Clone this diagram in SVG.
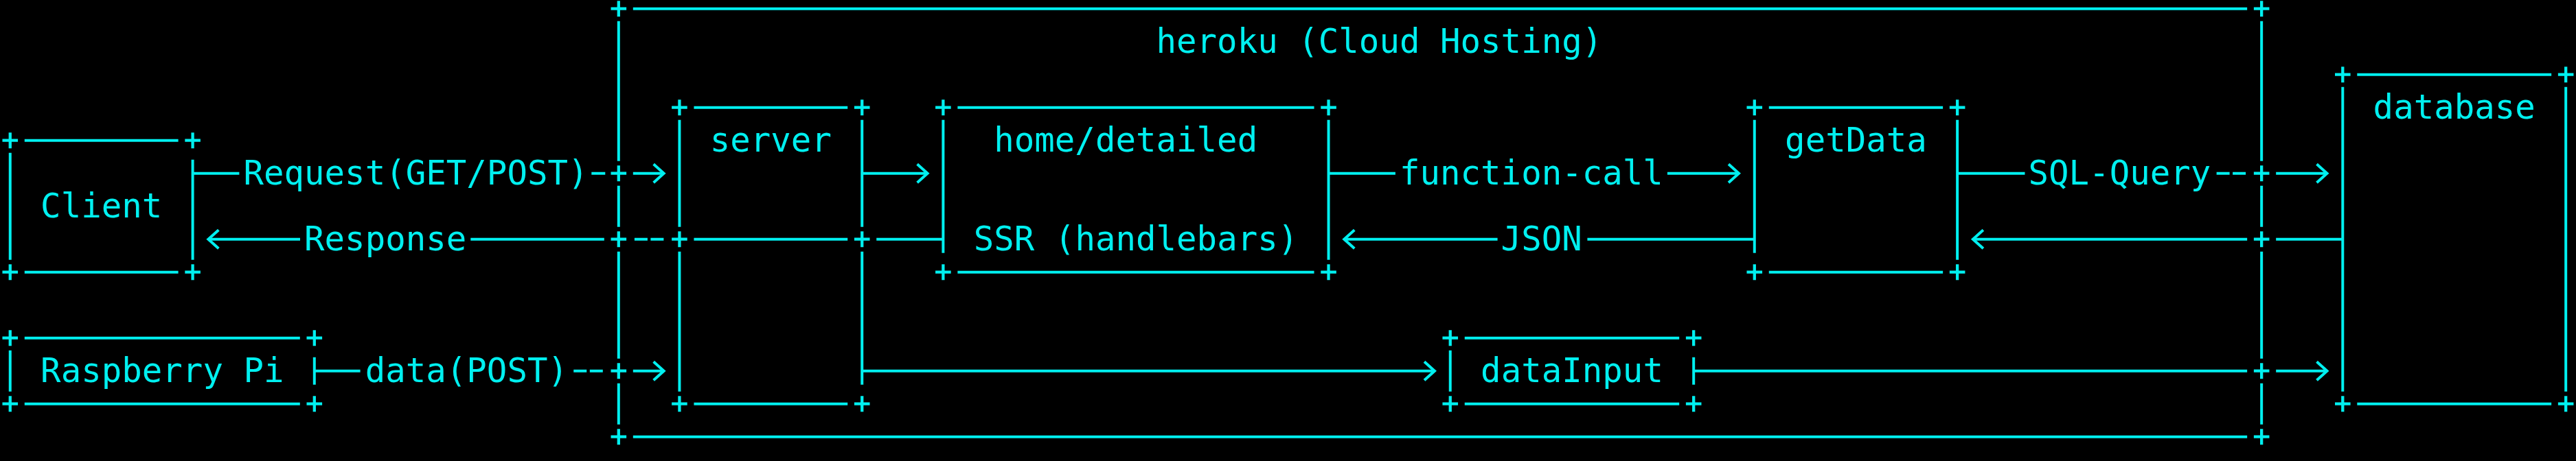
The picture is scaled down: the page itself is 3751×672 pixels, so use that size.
<svg xmlns="http://www.w3.org/2000/svg" xmlns:xlink="http://www.w3.org/1999/xlink" width="3751" height="672" viewBox="0 0 3751 672">
<style>
.ln{stroke:#00f0f0;stroke-width:4;fill:none;stroke-linecap:butt}
.ar{stroke:#00f0f0;stroke-width:4;fill:none;stroke-linecap:butt;marker-end:url(#ah)}
.t{font-family:"DejaVu Sans Mono","Liberation Mono",monospace;font-size:49px;fill:#00f0f0}
</style>
<defs>
<path id="p" d="M-11.3 0H11.3M0-11.5V11.5" stroke="#00f0f0" stroke-width="4.3" fill="none"/>
<marker id="ah" markerUnits="userSpaceOnUse" viewBox="-20 -20 40 40" markerWidth="40" markerHeight="40" refX="0" refY="0" orient="auto" overflow="visible">
<path d="M-15-13.5L0 0L-15 13.5" fill="none" stroke="#00f0f0" stroke-width="4"/>
</marker>
</defs>
<rect width="3751" height="672" fill="#000"/>

<g id="heroku">
<path class="ln" d="M921.82 12.7H3272.16M921.82 636.7H3272.16M900.82 30.7V234.7M900.82 270.7V330.7M900.82 366.7V522.7M900.82 558.7V618.7M3293.16 30.7V234.7M3293.16 270.7V330.7M3293.16 366.7V522.7M3293.16 558.7V618.7"/>
<use xlink:href="#p" x="900.82" y="12.7"/><use xlink:href="#p" x="3293.16" y="12.7"/>
<use xlink:href="#p" x="900.82" y="636.7"/><use xlink:href="#p" x="3293.16" y="636.7"/>
<use xlink:href="#p" x="900.82" y="252.7"/><use xlink:href="#p" x="900.82" y="348.7"/><use xlink:href="#p" x="900.82" y="540.7"/>
<use xlink:href="#p" x="3293.16" y="252.7"/><use xlink:href="#p" x="3293.16" y="348.7"/><use xlink:href="#p" x="3293.16" y="540.7"/>
<text class="t" x="1683.5" y="76.7" textLength="649.77" lengthAdjust="spacing">heroku (Cloud Hosting)</text>
</g>

<g id="database">
<path class="ln" d="M3432.3 108.7H3715.18M3432.3 588.7H3715.18M3411.3 126.7V570.7M3736.18 126.7V570.7"/>
<use xlink:href="#p" x="3411.3" y="108.7"/><use xlink:href="#p" x="3736.18" y="108.7"/>
<use xlink:href="#p" x="3411.3" y="588.7"/><use xlink:href="#p" x="3736.18" y="588.7"/>
<text class="t" x="3455.6" y="172.7" textLength="236.28" lengthAdjust="spacing">database</text>
</g>

<g id="server">
<path class="ln" d="M1010.43 156.7H1234.24M1010.43 348.7H1234.24M1010.43 588.7H1234.24M989.43 174.7V330.7M989.43 366.7V570.7M1255.24 174.7V330.7M1255.24 366.7V560.7"/>
<use xlink:href="#p" x="989.43" y="156.7"/><use xlink:href="#p" x="1255.24" y="156.7"/>
<use xlink:href="#p" x="989.43" y="348.7"/><use xlink:href="#p" x="1255.24" y="348.7"/>
<use xlink:href="#p" x="989.43" y="588.7"/><use xlink:href="#p" x="1255.24" y="588.7"/>
<text class="t" x="1033.7" y="220.7" textLength="177.21" lengthAdjust="spacing">server</text>
</g>

<g id="home">
<path class="ln" d="M1394.38 156.7H1913.55M1394.38 396.7H1913.55M1373.38 174.7V368.7M1934.55 174.7V378.7"/>
<use xlink:href="#p" x="1373.38" y="156.7"/><use xlink:href="#p" x="1934.55" y="156.7"/>
<use xlink:href="#p" x="1373.38" y="396.7"/><use xlink:href="#p" x="1934.55" y="396.7"/>
<text class="t" x="1447.2" y="220.7" textLength="383.96" lengthAdjust="spacing">home/detailed</text>
<text class="t" x="1417.7" y="364.7" textLength="472.56" lengthAdjust="spacing">SSR (handlebars)</text>
</g>

<g id="getData">
<path class="ln" d="M2575.78 156.7H2829.13M2575.78 396.7H2829.13M2554.78 174.7V368.7M2850.13 174.7V378.7"/>
<use xlink:href="#p" x="2554.78" y="156.7"/><use xlink:href="#p" x="2850.13" y="156.7"/>
<use xlink:href="#p" x="2554.78" y="396.7"/><use xlink:href="#p" x="2850.13" y="396.7"/>
<text class="t" x="2599.1" y="220.7" textLength="206.75" lengthAdjust="spacing">getData</text>
</g>

<g id="client">
<path class="ln" d="M35.77 204.7H259.59M35.77 396.7H259.59M14.77 222.7V378.7M280.59 232.7V378.7"/>
<use xlink:href="#p" x="14.77" y="204.7"/><use xlink:href="#p" x="280.59" y="204.7"/>
<use xlink:href="#p" x="14.77" y="396.7"/><use xlink:href="#p" x="280.59" y="396.7"/>
<text class="t" x="59.1" y="316.7" textLength="177.21" lengthAdjust="spacing">Client</text>
</g>

<g id="raspberry-pi">
<path class="ln" d="M35.77 492.7H436.8M35.77 588.7H436.8M14.77 510.7V570.7M457.8 520.7V560.7"/>
<use xlink:href="#p" x="14.77" y="492.7"/><use xlink:href="#p" x="457.8" y="492.7"/>
<use xlink:href="#p" x="14.77" y="588.7"/><use xlink:href="#p" x="457.8" y="588.7"/>
<text class="t" x="59.1" y="556.7" textLength="354.42" lengthAdjust="spacing">Raspberry Pi</text>
</g>

<g id="dataInput">
<path class="ln" d="M2132.76 492.7H2445.18M2132.76 588.7H2445.18M2111.76 510.7V570.7M2466.18 520.7V560.7"/>
<use xlink:href="#p" x="2111.76" y="492.7"/><use xlink:href="#p" x="2466.18" y="492.7"/>
<use xlink:href="#p" x="2111.76" y="588.7"/><use xlink:href="#p" x="2466.18" y="588.7"/>
<text class="t" x="2156.1" y="556.7" textLength="265.82" lengthAdjust="spacing">dataInput</text>
</g>

<g id="connectors">
<path class="ln" d="M280.59 252.7H348.4M861.3 252.7H881.3M1934.55 252.7H2031.9M2850.13 252.7H2948.5M3227.6 252.7H3246.6M3251.1 252.7H3270.1M685.3 348.7H879.82M923.9 348.7H942.9M947.4 348.7H966.4M1276.24 348.7H1373.38M2311.4 348.7H2554.78M3314.16 348.7H3411.3M457.8 540.7H524.6M835.25 540.7H854.25M858.8 540.7H877.8M2466.18 540.7H3272.16"/>
<path class="ar" d="M921.82 252.7H966.66"/>
<path class="ar" d="M1255.24 252.7H1350.6"/>
<path class="ar" d="M2427.9 252.7H2532"/>
<path class="ar" d="M3314.16 252.7H3388.5"/>
<path class="ar" d="M437 348.7H303.35"/>
<path class="ar" d="M2180.6 348.7H1957.3"/>
<path class="ar" d="M3272.16 348.7H2872.9"/>
<path class="ar" d="M921.82 540.7H966.66"/>
<path class="ar" d="M1255.24 540.7H2089"/>
<path class="ar" d="M3314.16 540.7H3388.5"/>
<text class="t" x="354.42" y="268.7" textLength="502.1" lengthAdjust="spacing">Request(GET/POST)</text>
<text class="t" x="2037.92" y="268.7" textLength="383.96" lengthAdjust="spacing">function-call</text>
<text class="t" x="2953.5" y="268.7" textLength="265.82" lengthAdjust="spacing">SQL-Query</text>
<text class="t" x="443.03" y="364.7" textLength="236.28" lengthAdjust="spacing">Response</text>
<text class="t" x="2185.59" y="364.7" textLength="118.14" lengthAdjust="spacing">JSON</text>
<text class="t" x="531.63" y="556.7" textLength="295.35" lengthAdjust="spacing">data(POST)</text>
</g>
</svg>
